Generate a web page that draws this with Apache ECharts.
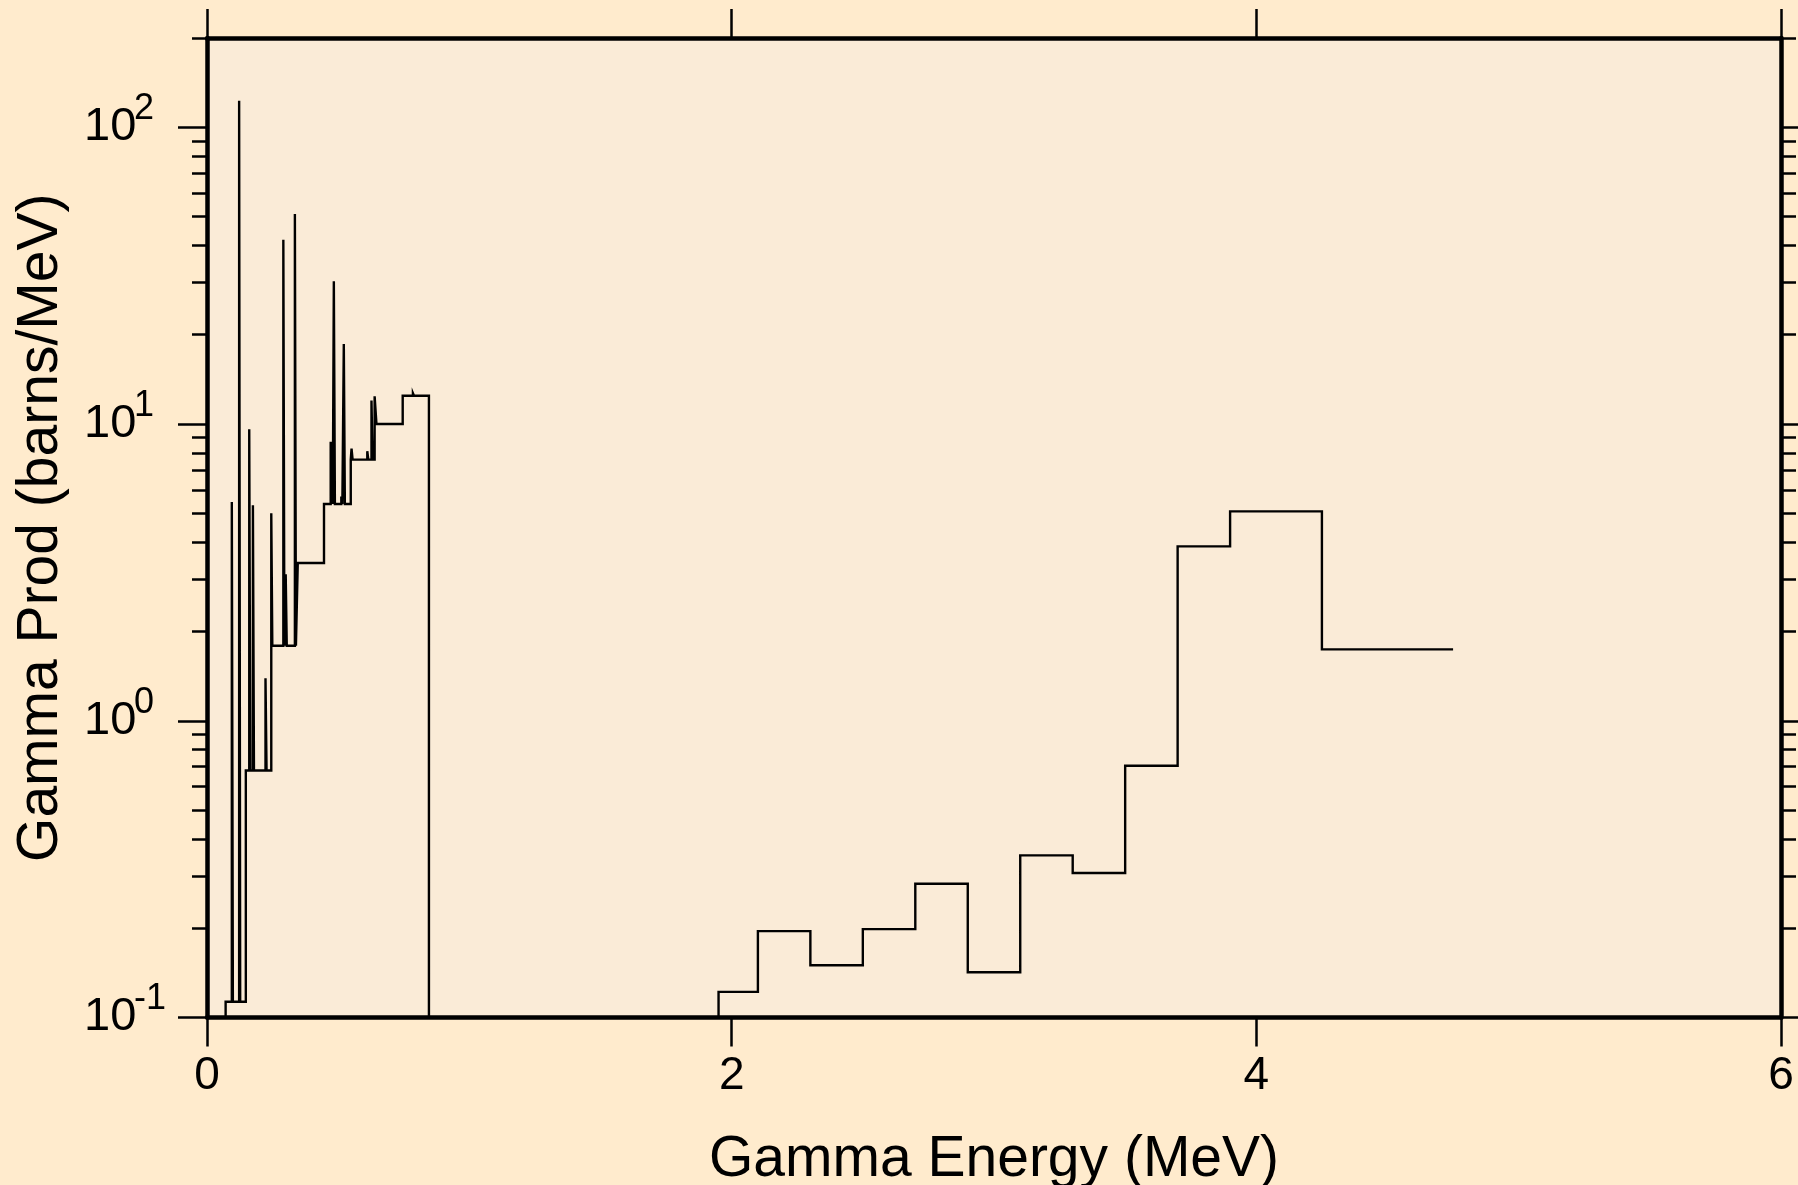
<!DOCTYPE html>
<html>
<head>
<meta charset="utf-8">
<script src="https://cdn.jsdelivr.net/npm/echarts@6/dist/echarts.min.js"></script>
<style>
  html, body { margin: 0; padding: 0; background: #FFEBCD; }
  #chart { width: 1798px; height: 1185px; }
</style>
</head>
<body>
<div id="chart"></div>
<script>
// Gamma production spectrum as a histogram: bin edges (MeV) and the value in each bin (barns/MeV).
const binEdges = [
  0.071,
  0.0946, 0.0986,
  0.1225, 0.1265,
  0.148,
  0.161, 0.165,
  0.175, 0.179,
  0.223, 0.227,
  0.245, 0.249,
  0.291, 0.295,
  0.300, 0.304,
  0.335, 0.339,
  0.346,
  0.446,
  0.4715, 0.4795,
  0.4835, 0.4875,
  0.512, 0.516,
  0.5215, 0.5255,
  0.548,
  0.551, 0.555,
  0.611, 0.615,
  0.627, 0.631,
  0.639, 0.646,
  0.746,
  0.785, 0.789,
  0.846,
  1.95, 2.1, 2.3, 2.5, 2.7, 2.9, 3.1, 3.3, 3.5, 3.7, 3.9, 4.25, 4.75
];
const binValues = [
  0.113, 5.46, 0.113, 123, 0.113,
  0.68, 9.6, 0.68, 5.33, 0.68, 1.39, 0.68, 5.0,
  1.79, 41.8, 1.79, 3.12, 1.79, 51, 1.79,
  3.40,
  5.38, 8.63, 5.38, 30.3, 5.38, 5.7, 5.38, 18.6, 5.38,
  7.59, 8.27, 7.59, 8.1, 7.59, 12.0, 7.59, 12.4,
  10.0,
  12.45, 12.7, 12.45,
  0.1,
  0.122, 0.1955, 0.150, 0.1986, 0.2824, 0.142, 0.352, 0.307, 0.705, 3.87, 5.08, 1.74
];

// Axis ranges and tick positions
const xMin = 0, xMax = 6, xStep = 2;
const yMin = 0.1, yMax = 200;
const yMajorTicks = [0.1, 1, 10, 100];
const yMinorTicks = [0.2, 0.3, 0.4, 0.5, 0.6, 0.7, 0.8, 0.9,
                     2, 3, 4, 5, 6, 7, 8, 9,
                     20, 30, 40, 50, 60, 70, 80, 90, 200];

const xTitle = 'Gamma Energy (MeV)';
const yTitle = 'Gamma Prod (barns/MeV)';

// Step outline: rise from the axis floor, then flat top across each bin.
const stepPoints = [[binEdges[0], yMin]];
for (let i = 0; i < binValues.length; i++) {
  stepPoints.push([binEdges[i], binValues[i]]);
  stepPoints.push([binEdges[i + 1], binValues[i]]);
}

const FONT = '"Liberation Sans", Arial, Helvetica, sans-serif';
const INK = '#000';
const frameLine = { show: true, onZero: false, lineStyle: { color: INK, width: 4.5 } };
const majorTick = { show: true, inside: false, length: 29, lineStyle: { color: INK, width: 2.5 } };
const minorTick = { show: true, inside: false, length: 15, lineStyle: { color: INK, width: 2.5 } };
const plotBox = { left: 207, right: 17, top: 38, bottom: 167.5, containLabel: false, outerBoundsMode: 'none' };

function xAxisAt(gridIndex, position, withLabels) {
  return {
    type: 'value', gridIndex, position, min: xMin, max: xMax, interval: xStep,
    axisLine: frameLine, axisTick: majorTick,
    axisLabel: withLabels
      ? { show: true, fontSize: 46, fontFamily: FONT, color: INK, margin: 36 }
      : { show: false },
    splitLine: { show: false }
  };
}

function yAxisAt(gridIndex, position, ticks, tick, line) {
  return {
    type: 'log', logBase: 10, gridIndex, position, min: yMin, max: yMax,
    axisLine: line ? frameLine : { show: false },
    axisTick: Object.assign({ customValues: ticks }, tick),
    axisLabel: { show: false },
    splitLine: { show: false },
    minorTick: { show: false }
  };
}

// Decade labels: mantissa "10" on the main axis, exponent raised on the minor-tick axis.
const leftMain = yAxisAt(0, 'left', yMajorTicks, majorTick, true);
leftMain.axisLabel = {
  show: true, customValues: yMajorTicks, align: 'left', margin: 123,
  fontSize: 47, fontFamily: FONT, color: INK,
  formatter: () => '10'
};
leftMain.name = yTitle;
leftMain.nameLocation = 'middle';
leftMain.nameRotate = 90;
leftMain.nameGap = 166;
leftMain.nameMoveOverlap = false;
leftMain.nameTextStyle = { fontSize: 57, fontFamily: FONT, color: INK, verticalAlign: 'middle' };

// The exponent sits on the upper of two text lines, so it rides above the tick.
const leftMinor = yAxisAt(1, 'left', yMinorTicks, minorTick, false);
leftMinor.axisLabel = {
  show: true, customValues: yMajorTicks, align: 'left', margin: 73,
  fontSize: 36, lineHeight: 36, fontFamily: FONT, color: INK,
  formatter: v => String(Math.round(Math.log10(v))) + '\n '
};

const bottomAxis = xAxisAt(0, 'bottom', true);
bottomAxis.name = xTitle;
bottomAxis.nameLocation = 'middle';
bottomAxis.nameGap = 143;
bottomAxis.nameMoveOverlap = false;
bottomAxis.nameTextStyle = { fontSize: 57, fontFamily: FONT, color: INK, verticalAlign: 'middle' };

const helperX = { type: 'value', gridIndex: 1, min: xMin, max: xMax, show: false };

const chart = echarts.init(document.getElementById('chart'), null, { renderer: 'canvas' });
chart.setOption({
  animation: false,
  backgroundColor: '#FFEBCD',
  grid: [
    Object.assign({ show: true, backgroundColor: '#FAEBD7', borderWidth: 0 }, plotBox),
    Object.assign({ show: false }, plotBox)
  ],
  xAxis: [bottomAxis, xAxisAt(0, 'top', false), helperX],
  yAxis: [
    leftMain,
    yAxisAt(0, 'right', yMajorTicks, majorTick, true),
    leftMinor,
    yAxisAt(1, 'right', yMinorTicks, minorTick, false)
  ],
  series: [{
    type: 'line',
    xAxisIndex: 0,
    yAxisIndex: 0,
    data: stepPoints,
    showSymbol: false,
    symbol: 'none',
    clip: true,
    z: 3,
    lineStyle: { color: INK, width: 2.4, join: 'miter' }
  }]
});
</script>
</body>
</html>
